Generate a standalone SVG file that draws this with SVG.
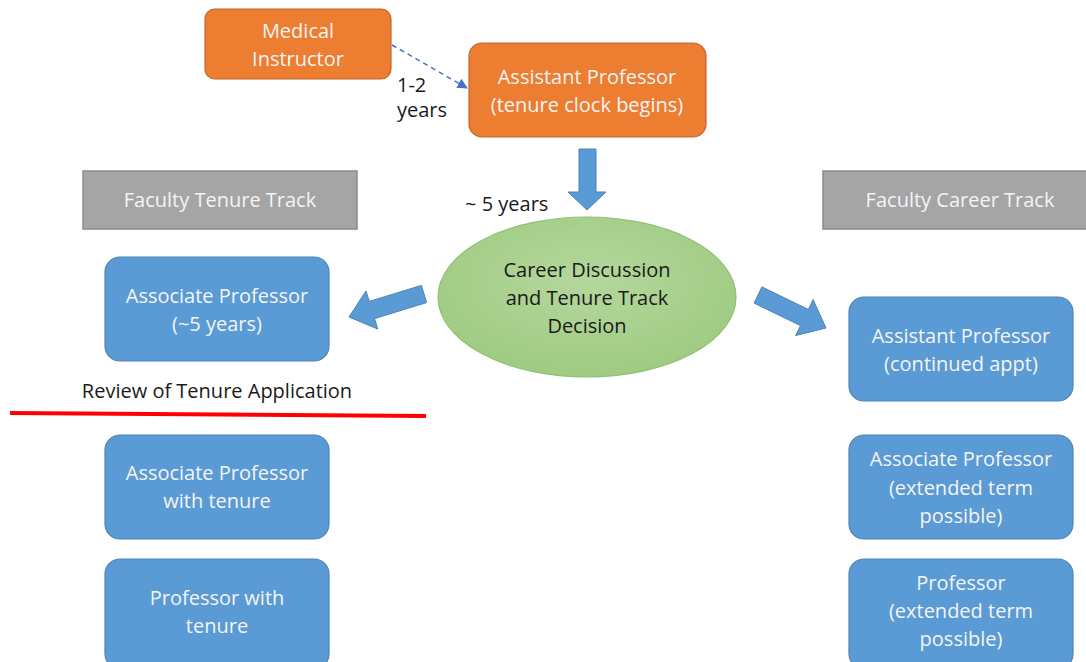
<svg xmlns="http://www.w3.org/2000/svg" width="1086" height="662" viewBox="0 0 1086 662">
<defs>
<style>
.t{font-family:"Open Sans","Liberation Sans",Arial,sans-serif;font-size:20px;text-anchor:middle}
.w{fill:#f4f4f4}
.k{fill:#1a1a1a}
.orange{fill:#ED7D31;stroke:#c4672a;stroke-width:1.2}
.blue{fill:#5B9BD5;stroke:#4a84b8;stroke-width:1.2}
.gray{fill:#A5A5A5;stroke:#8a8a8a;stroke-width:1.5}
.barrow{fill:#5B9BD5;stroke:#4a84b8;stroke-width:1}
</style>
<radialGradient id="g" cx="50%" cy="40%" r="60%">
<stop offset="0" stop-color="#b5d79d"/>
<stop offset="1" stop-color="#9fcb82"/>
</radialGradient>
<marker id="ah" viewBox="0 0 10 10" refX="9" refY="5" markerWidth="7" markerHeight="7" orient="auto">
<path d="M0,0 L10,5 L0,10 z" fill="#4472C4"/>
</marker>
</defs>
<rect width="1086" height="662" fill="#ffffff"/>

<g id="connectors">
<line x1="392" y1="45" x2="467" y2="88" stroke="#4472C4" stroke-width="1.5" stroke-dasharray="5,4" marker-end="url(#ah)"/>
<polygon class="barrow" points="579,149 596,149 596,192 606,192 587,210 568,192 579,192"/>
<polygon class="barrow" points="421.4,285.4 369.3,301.4 366,290.9 349,317 377.8,329.1 374.5,318.6 426.6,302.6"/>
<polygon class="barrow" points="761.9,286.9 808.3,309.4 813.1,299.5 826,328 795.7,335.5 800.5,325.6 754.1,303.1"/>
<line x1="10" y1="413" x2="426" y2="416" stroke="#FF0000" stroke-width="4"/>
</g>

<g id="medical-instructor">
<rect class="orange" x="205" y="9" width="186" height="70" rx="10"/>
<text class="t w" x="298" y="38">Medical</text>
<text class="t w" x="298" y="66">Instructor</text>
</g>

<g id="label-1-2-years">
<text class="t k" x="397" y="92" style="text-anchor:start">1-2</text>
<text class="t k" x="397" y="117" style="text-anchor:start">years</text>
</g>

<g id="assistant-professor-tenure">
<rect class="orange" x="469" y="43" width="237" height="94" rx="13"/>
<text class="t w" x="587" y="84">Assistant Professor</text>
<text class="t w" x="587" y="112">(tenure clock begins)</text>
</g>

<g id="label-5-years">
<text class="t k" x="465" y="211" style="text-anchor:start">~ 5 years</text>
</g>

<g id="career-discussion">
<ellipse cx="587" cy="297" rx="149" ry="80" fill="url(#g)" stroke="#90c070" stroke-width="1.2"/>
<text class="t k" x="587" y="277">Career Discussion</text>
<text class="t k" x="587" y="305">and Tenure Track</text>
<text class="t k" x="587" y="333">Decision</text>
</g>

<g id="faculty-tenure-track">
<rect class="gray" x="83" y="171" width="274" height="58"/>
<text class="t w" x="220" y="207">Faculty Tenure Track</text>
</g>

<g id="faculty-career-track">
<rect class="gray" x="823" y="171" width="270" height="58"/>
<text class="t w" x="960" y="207">Faculty Career Track</text>
</g>

<g id="associate-professor-5-years">
<rect class="blue" x="105" y="257" width="224" height="104" rx="15"/>
<text class="t w" x="217" y="303">Associate Professor</text>
<text class="t w" x="217" y="331">(~5 years)</text>
</g>

<g id="review-label">
<text class="t k" x="217" y="398">Review of Tenure Application</text>
</g>

<g id="associate-professor-tenure">
<rect class="blue" x="105" y="435" width="224" height="104" rx="15"/>
<text class="t w" x="217" y="480">Associate Professor</text>
<text class="t w" x="217" y="508">with tenure</text>
</g>

<g id="professor-tenure">
<rect class="blue" x="105" y="559" width="224" height="110" rx="15"/>
<text class="t w" x="217" y="605">Professor with</text>
<text class="t w" x="217" y="633">tenure</text>
</g>

<g id="assistant-professor-continued">
<rect class="blue" x="849" y="297" width="224" height="104" rx="15"/>
<text class="t w" x="961" y="343">Assistant Professor</text>
<text class="t w" x="961" y="371">(continued appt)</text>
</g>

<g id="associate-professor-extended">
<rect class="blue" x="849" y="435" width="224" height="104" rx="15"/>
<text class="t w" x="961" y="466">Associate Professor</text>
<text class="t w" x="961" y="495">(extended term</text>
<text class="t w" x="961" y="523">possible)</text>
</g>

<g id="professor-extended">
<rect class="blue" x="849" y="559" width="224" height="110" rx="15"/>
<text class="t w" x="961" y="590">Professor</text>
<text class="t w" x="961" y="618">(extended term</text>
<text class="t w" x="961" y="646">possible)</text>
</g>
</svg>
